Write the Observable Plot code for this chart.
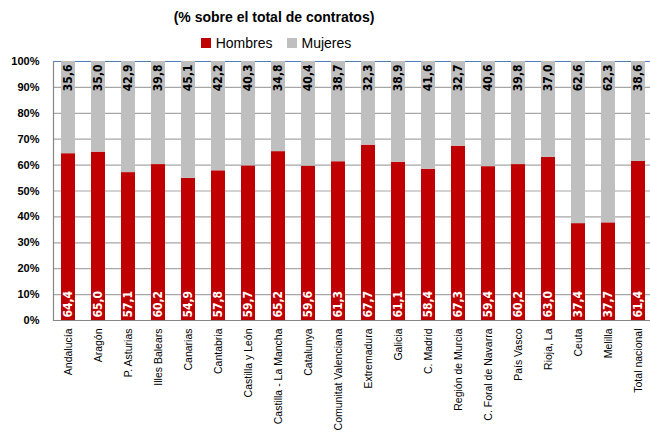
<!DOCTYPE html>
<html><head><meta charset="utf-8">
<script src="https://cdn.jsdelivr.net/npm/d3@7"></script>
<script src="https://cdn.jsdelivr.net/npm/@observablehq/plot@0.6"></script>
<style>
body{margin:0;background:#fff;font-family:"Liberation Sans",Arial,sans-serif;color:#000;}
#wrap{width:650px;height:435px;overflow:hidden;}
.title{width:548px;height:32px;line-height:34px;text-align:center;font-weight:bold;font-size:14px;}
.legend{width:552px;height:22px;display:flex;justify-content:center;align-items:center;font-size:14px;}
.legend .sw{display:inline-block;width:10px;height:10px;margin-right:5px;}
.legend .item{display:flex;align-items:center;margin:0 7px;}
</style></head>
<body><div id="wrap">
<div class="title">(% sobre el total de contratos)</div>
<div class="legend" id="legend"></div>
<div id="chart"></div>
</div>
<script>
const regions = ["Andalucía","Aragón","P. Asturias","Illes Balears","Canarias","Cantabria","Castilla y León","Castilla - La Mancha","Catalunya","Comunitat Valenciana","Extremadura","Galicia","C. Madrid","Región de Murcia","C. Foral de Navarra","País Vasco","Rioja, La","Ceuta","Melilla","Total nacional"];
const hombres = [64.4,65.0,57.1,60.2,54.9,57.8,59.7,65.2,59.6,61.3,67.7,61.1,58.4,67.3,59.4,60.2,63.0,37.4,37.7,61.4];
const mujeres = [35.6,35.0,42.9,39.8,45.1,42.2,40.3,34.8,40.4,38.7,32.3,38.9,41.6,32.7,40.6,39.8,37.0,62.6,62.3,38.6];
const yTicks = [0,10,20,30,40,50,60,70,80,90,100];
const series = ["Hombres","Mujeres"];
const colors = ["#c00000","#bfbfbf"];

const data = regions.map((r,i) => ({region:r, h:hombres[i], m:mujeres[i]}));
const fmt = v => v.toFixed(1).replace(".", ",");

const legend = document.getElementById("legend");
series.forEach((s,i) => {
  const it = document.createElement("span");
  it.className = "item";
  it.innerHTML = `<span class="sw" style="background:${colors[i]}"></span>${s}`;
  legend.appendChild(it);
});

const labelFont = '"Liberation Sans Narrow","DejaVu Sans Condensed",sans-serif';
const chart = Plot.plot({
  width: 650,
  height: 381,
  marginTop: 7,
  marginBottom: 115,
  marginLeft: 53,
  marginRight: 0,
  style: {fontFamily: '"Liberation Sans",Arial,sans-serif', background: "#fff", overflow: "hidden"},
  x: {type: "band", domain: regions, range: [53, 654], paddingInner: 0.53, paddingOuter: 0.265, label: null},
  y: {domain: [0, 100], label: null},
  marks: [
    Plot.ruleY(yTicks.filter(t => t > 0 && t < 100), {stroke: "#a6a6a6", strokeWidth: 1.2}),
    Plot.ruleY([100], {stroke: "#4f81bd", strokeWidth: 1.2}),
    Plot.barY(data, {x: "region", y1: 0, y2: "h", fill: colors[0], inset: 0}),
    Plot.barY(data, {x: "region", y1: "h", y2: d => d.h + d.m, fill: colors[1], inset: 0}),
    Plot.ruleY([0], {stroke: "#868686", strokeWidth: 1.2}),
    Plot.frame({anchor: "left", stroke: "#868686", strokeWidth: 1.2}),
    Plot.text(data, {x: "region", y: 0, text: d => fmt(d.h), rotate: -90, textAnchor: "start", lineAnchor: "middle", dy: -3, fill: "#fff", fontSize: 12, fontWeight: "bold", fontFamily: labelFont}),
    Plot.text(data, {x: "region", y: 100, text: d => fmt(d.m), rotate: -90, textAnchor: "end", lineAnchor: "middle", dy: 3, fill: "#000", fontSize: 12, fontWeight: "bold", fontFamily: labelFont}),
    Plot.axisY({ticks: yTicks, tickFormat: d => d + "%", tickSize: 0, tickPadding: 14, fontWeight: "bold", fontSize: 11, label: null}),
    Plot.axisX({tickRotate: -90, tickSize: 0, tickPadding: 8, fontSize: 10.5, label: null})
  ]
});
document.getElementById("chart").appendChild(chart);
</script>
</body></html>
